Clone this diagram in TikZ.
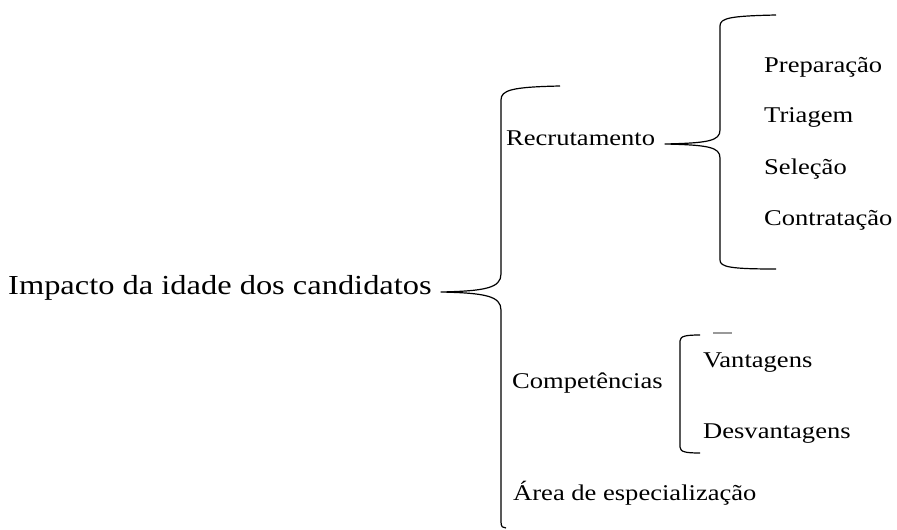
\documentclass[tikz,border=0pt]{standalone}
\usepackage{fontspec}
\setmainfont{Liberation Serif}[FakeStretch=1.18]
\begin{document}
\begin{tikzpicture}[x=1pt,y=-1pt,
  lbl/.style={anchor=base west,inner sep=0pt,font=\fontsize{22.5}{27}\selectfont},
  big/.style={anchor=base west,inner sep=0pt,font=\fontsize{27.5}{33}\selectfont},
  brace/.style={draw=black,line width=1.2pt,line join=round}]
\useasboundingbox (0,0) rectangle (897,530);
% texts
\node[big] (root) at (8,294) {Impacto da idade dos candidatos};
\node[lbl] (rec) at (506,145) {Recrutamento};
\node[lbl] (prep) at (764,72) {Preparação};
\node[lbl] (tri) at (764,122) {Triagem};
\node[lbl] (sel) at (764,174) {Seleção};
\node[lbl] (con) at (764,225) {Contratação};
\node[lbl] (comp) at (512,388) {Competências};
\node[lbl] (van) at (703,367) {Vantagens};
\node[lbl] (des) at (703,438) {Desvantagens};
\node[lbl] (area) at (513,500) {Área de especialização};
% main brace
\coordinate (mtip) at (441,292);
\draw[brace] (560,86) .. controls (512,87) and (501,90) .. (501,100)
  -- (501,274) .. controls (501,288) and (485,291) .. (mtip)
  .. controls (485,293) and (501,296) .. (501,310)
  -- (501,522) .. controls (501,527) and (503,528) .. (506,528);
% recrutamento brace
\coordinate (rtip) at (665,144);
\draw[brace] (776,15) .. controls (730,16) and (720,18) .. (720,26)
  -- (720,130) .. controls (720,141) and (708,143) .. (rtip)
  .. controls (708,145) and (720,147) .. (720,158)
  -- (720,260) .. controls (720,267) and (730,269) .. (776,269);
% competencias bracket
\draw[brace] (700,335) .. controls (686,335) and (680,336) .. (680,341)
  -- (680,447) .. controls (680,452) and (686,453) .. (700,453);
\draw[line width=1.2pt,black!40] (713,333) -- (732,333);
\end{tikzpicture}
\end{document}
